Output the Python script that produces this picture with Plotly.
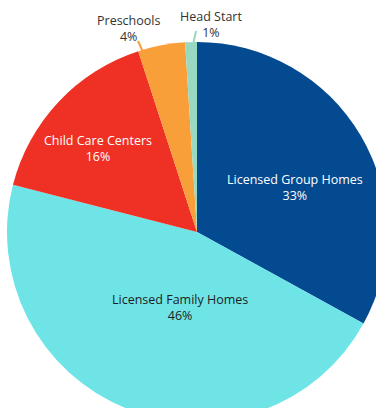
import plotly.graph_objects as go

# Share of licensed child care capacity by provider type
categories = [
    "Licensed Group Homes",
    "Licensed Family Homes",
    "Child Care Centers",
    "Preschools",
    "Head Start",
]
shares = [33, 46, 16, 4, 1]
slice_colors = ["#034A91", "#6EE4E6", "#EE3124", "#F99F3A", "#99D9C2"]
label_colors = ["#FFFFFF", "#1E1E1E", "#FFFFFF", "#333333", "#333333"]

# Canvas and pie geometry in pixels
W, H = 387, 422
CX, CY, R = 197, 232, 190

# Label centres (px) and leader lines (px) for the two thin slices
label_xy = {
    "Licensed Group Homes": (295, 187),
    "Licensed Family Homes": (180, 307),
    "Child Care Centers": (98, 148),
    "Preschools": (128, 28),
    "Head Start": (211, 24),
}
leader_lines = {
    "Preschools": ((143, 52), (138, 41)),
    "Head Start": ((193, 45), (196, 31)),
}


def px(x, y):
    """Pixel position -> paper coordinates."""
    return x / W, 1 - y / H


fig = go.Figure(
    go.Pie(
        labels=categories,
        values=shares,
        sort=False,
        direction="clockwise",
        rotation=0,
        marker=dict(colors=slice_colors, line=dict(width=0)),
        textinfo="none",
        showlegend=False,
        hoverinfo="label+percent",
        automargin=False,
        domain=dict(
            x=[(CX - R) / W, (CX + R) / W],
            y=[1 - (CY + R) / H, 1 - (CY - R) / H],
        ),
    )
)

for cat, share, color, tcolor in zip(categories, shares, slice_colors, label_colors):
    lx, ly = px(*label_xy[cat])
    fig.add_annotation(
        x=lx, y=ly, xref="paper", yref="paper",
        text=f"{cat}<br>{share}%",
        showarrow=False,
        xanchor="center", yanchor="middle",
        align="center",
        font=dict(family="Open Sans", size=12.5, color=tcolor),
    )
    if cat in leader_lines:
        (x0, y0), (x1, y1) = leader_lines[cat]
        p0, p1 = px(x0, y0), px(x1, y1)
        fig.add_shape(
            type="line", xref="paper", yref="paper",
            x0=p0[0], y0=p0[1], x1=p1[0], y1=p1[1],
            line=dict(color=color, width=2),
        )

fig.update_layout(
    width=W,
    height=H,
    margin=dict(l=0, r=0, t=0, b=0, autoexpand=False),
    paper_bgcolor="white",
    plot_bgcolor="white",
)

fig.write_html(
    "out.html",
    post_script=(
        "document.documentElement.style.overflow='hidden';"
        "document.body.style.overflow='hidden';"
        "document.body.style.margin='0';"
    ),
)
